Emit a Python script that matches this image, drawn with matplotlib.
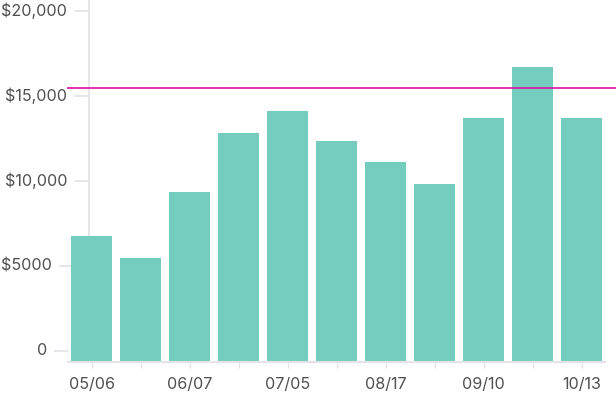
import matplotlib
matplotlib.use("Agg")
import matplotlib.pyplot as plt
from matplotlib.lines import Line2D
import matplotlib.transforms as mtransforms

# Data
tick_labels = ["05/06", "", "06/07", "", "07/05", "", "08/17", "", "09/10", "", "10/13"]
values = [6770, 5470, 9350, 12800, 14100, 12350, 11100, 9800, 13700, 16700, 13700]
target = 15450
y_ticks = [0, 5000, 10000, 15000, 20000]
y_tick_labels = ["0", "$5000", "$10,000", "$15,000", "$20,000"]

BAR = "#74cdbe"
LINE = "#e00ea6"
GRID = "#e3e3e8"
TEXT = "#505050"

plt.rcParams["font.family"] = ["Inter", "DejaVu Sans"]

W, H = 616, 400
fig = plt.figure(figsize=(W / 100, H / 100), dpi=100)
# axes from x=67px to the right edge, y from 0 to 362px
ax = fig.add_axes([67 / W, 38 / H, (W - 67) / W, 362 / H])

n = len(values)
x = list(range(n))
y0 = -650  # bars start at the bottom of the plot area
ax.set_ylim(y0, 20650)
ax.set_xlim(-0.5, -0.5 + (W - 67) / 49)

# faint y axis line sitting behind the first bar
fig.add_artist(Line2D([89 / W, 89 / W], [38 / H, 1], color=GRID, lw=1.2, zorder=0))

# y tick labels and small tick marks
blend = mtransforms.blended_transform_factory(fig.transFigure, ax.transData)
label_right = [47, 52, 67, 67, 67]
for val, lab, xr in zip(y_ticks, y_tick_labels, label_right):
    ax.text(xr / W, val, lab, transform=blend, ha="right", va="center",
            fontsize=11.6, color=TEXT, clip_on=False)
    ax.add_line(Line2D([(xr + 8) / W, (xr + 21) / W], [val, val], transform=blend,
                       color=GRID, lw=1.2, zorder=0, clip_on=False))

ax.bar(x, [v - y0 for v in values], bottom=y0, width=41 / 49, color=BAR, zorder=2)

# bottom axis line under the bars
ax.hlines(y0, -0.5, n - 0.5, color=GRID, lw=1.5, zorder=3, clip_on=False)

ax.axhline(target, color=LINE, lw=1.2, zorder=4)

ax.set_xticks(x)
ax.set_xticklabels(tick_labels)
ax.tick_params(axis="x", length=4.3, width=1, color=GRID, pad=6.5,
               labelsize=11.6, labelcolor=TEXT)
ax.set_yticks([])
for s in ax.spines.values():
    s.set_visible(False)
ax.patch.set_alpha(0)

fig.savefig("out.png", dpi=100)
